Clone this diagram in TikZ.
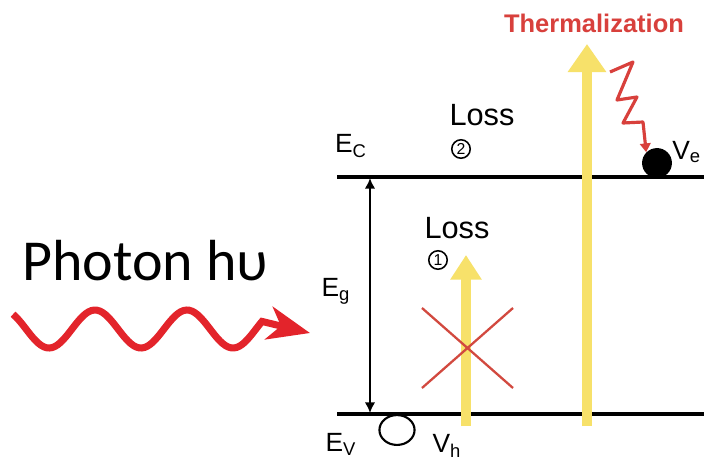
\documentclass[tikz,border=0pt]{standalone}
\usepackage{fontspec}
\setmainfont{Liberation Sans}
\newfontfamily\photonfont{Carlito}
\usetikzlibrary{arrows.meta,shapes.geometric}

\definecolor{photonred}{HTML}{E3242B}
\definecolor{heatred}{HTML}{D8403C}
\definecolor{crossred}{HTML}{D2493F}
\definecolor{lightyellow}{HTML}{F7E16A}

\tikzset{
  band/.style={line width=2.4pt},
  levellabel/.style={inner sep=0pt, font=\fontsize{15}{17}\selectfont},
  losslabel/.style={inner sep=0pt, font=\fontsize{17.5}{20}\selectfont},
  circnum/.style={draw, circle, line width=0.9pt, inner sep=0pt, minimum size=10.5pt, font=\fontsize{9}{10}\selectfont},
  uparrow/.style={lightyellow, line width=5.8pt},
}

\begin{document}
\begin{tikzpicture}[x=0.02cm, y=-0.02cm, line cap=butt]
  \clip (0,0) rectangle (704,461);
  \fill[white] (0,0) rectangle (704,461);
  % band edges
  \coordinate (ecl) at (337,177);
  \coordinate (ecr) at (710,177);
  \coordinate (evl) at (337,414);
  \coordinate (evr) at (710,414);
  \draw[band] (ecl) -- (ecr);
  \draw[band] (evl) -- (evr);
  \node[levellabel] (ec) at (351,146) {E\textsubscript{C}};
  \node[levellabel] (ev) at (341,444) {E\textsubscript{V}};
  % band gap
  \coordinate (gtop) at (370,178);
  \coordinate (gbot) at (370,413);
  \draw[line width=1.3pt, {Latex[length=6pt,width=6pt]}-{Latex[length=6pt,width=6pt]}] (gtop) -- (gbot);
  \node[levellabel] (eg) at (336,291) {E\textsubscript{g}};
  % losses
  \node[losslabel] (loss2) at (482,115) {Loss};
  \node[circnum] (num2) at (461,149) {2};
  \node[losslabel] (loss1) at (457,228) {Loss};
  \node[circnum] (num1) at (438,260) {1};
  % absorption arrows
  \coordinate (sbot) at (466,426);
  \coordinate (stop) at (466,255);
  \coordinate (bbot) at (587,426);
  \coordinate (btop) at (587,44);
  \draw[uparrow, -{Triangle[length=14pt,width=17pt]}] (sbot) -- (stop);
  \draw[uparrow, -{Triangle[length=16pt,width=21pt]}] (bbot) -- (btop);
  % forbidden transition
  \draw[crossred, line width=1.3pt] (422,308) -- (513,388);
  \draw[crossred, line width=1.3pt] (422,388) -- (513,308);
  % carriers
  \node[fill=black, circle, inner sep=0pt, minimum size=17pt] (elec) at (657,163) {};
  \node[anchor=west, levellabel] (ve) at (672,152) {V\textsubscript{e}};
  \node[draw, ellipse, line width=1.2pt, inner sep=0pt, minimum width=20pt, minimum height=17pt] (hole) at (397,430) {};
  \node[levellabel] (vh) at (447,446) {V\textsubscript{h}};
  % thermalization
  \node[heatred, inner sep=0pt, font=\bfseries\fontsize{14.5}{16}\selectfont] (therm) at (594,23) {Thermalization};
  \draw[heatred, line width=1.8pt, line join=round, -{Triangle[length=5pt,width=6pt]}]
    (610,72) -- (633,62) -- (617,100) -- (637,97) -- (623,123) -- (643,122) -- (elec.north west);
  % incoming photon
  \node[anchor=base west, inner sep=0pt, font=\photonfont\fontsize{33}{38}\selectfont] (photon) at (22,280) {Photon hυ};
  \coordinate (wavetip) at (310,333);
  \draw[photonred, line width=4pt, -{Stealth[length=24pt,width=19pt,inset=7pt]}]
    plot[domain=13:262, samples=90, smooth] (\x,{329-19*cos((\x-3)/92*360)}) -- (wavetip);
\end{tikzpicture}
\end{document}
